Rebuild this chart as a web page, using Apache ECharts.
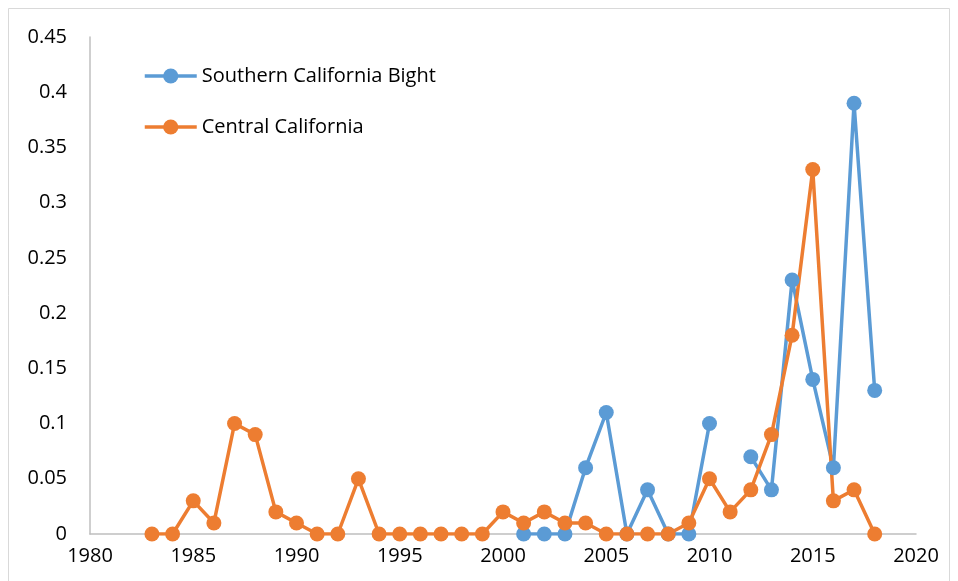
<!DOCTYPE html>
<html>
<head>
<meta charset="utf-8">
<script src="https://cdn.jsdelivr.net/npm/echarts@6/dist/echarts.min.js"></script>
<style>
  html, body { margin: 0; padding: 0; background: #fff; }
  #chart { width: 958px; height: 581px; }
</style>
</head>
<body>
<div id="chart"></div>
<script>
// Survey years
const years = [1983, 1984, 1985, 1986, 1987, 1988, 1989, 1990, 1991, 1992,
  1993, 1994, 1995, 1996, 1997, 1998, 1999, 2000, 2001, 2002,
  2003, 2004, 2005, 2006, 2007, 2008, 2009, 2010, 2011, 2012,
  2013, 2014, 2015, 2016, 2017, 2018];

// Southern California Bight (no survey before 2001, none in 2011)
const southernBight = [null, null, null, null, null, null, null, null, null, null,
  null, null, null, null, null, null, null, null, 0, 0,
  0, 0.06, 0.11, 0, 0.04, 0, 0, 0.10, null, 0.07,
  0.04, 0.23, 0.14, 0.06, 0.39, 0.13];

// Central California
const centralCal = [0, 0, 0.03, 0.01, 0.10, 0.09, 0.02, 0.01, 0, 0,
  0.05, 0, 0, 0, 0, 0, 0, 0.02, 0.01, 0.02,
  0.01, 0.01, 0, 0, 0, 0, 0.01, 0.05, 0.02, 0.04,
  0.09, 0.18, 0.33, 0.03, 0.04, 0];

const seriesNames = ['Southern California Bight', 'Central California'];
const FONT = 'Open Sans';

function pairs(values) {
  return years.map((y, i) => [y, values[i] === null ? '-' : values[i]]);
}

const chart = echarts.init(document.getElementById('chart'), null, { renderer: 'canvas' });

chart.setOption({
  backgroundColor: '#ffffff',
  animation: false,
  graphic: [{
    type: 'rect',
    shape: { x: 8.5, y: 8.5, width: 941, height: 600 },
    style: { fill: 'none', stroke: '#d9d9d9', lineWidth: 1 },
    silent: true
  }],
  grid: { left: 90, right: 42, top: 37, bottom: 47, containLabel: false },
  legend: {
    orient: 'vertical',
    left: 138,
    top: 61,
    padding: 5,
    itemWidth: 52,
    itemHeight: 19,
    itemGap: 31,
    lineStyle: { width: 3.5 },
    textStyle: { fontFamily: FONT, fontSize: 20, color: '#000' },
    data: seriesNames
  },
  xAxis: {
    type: 'value',
    min: 1980,
    max: 2020,
    interval: 5,
    axisLine: { show: true, lineStyle: { color: '#bfbfbf', width: 1.5 } },
    axisTick: { show: false },
    splitLine: { show: false },
    axisLabel: {
      fontFamily: FONT, fontSize: 20, color: '#000', margin: 12,
      formatter: v => String(v)
    }
  },
  yAxis: {
    type: 'value',
    min: 0,
    max: 0.45,
    interval: 0.05,
    axisLine: { show: true, lineStyle: { color: '#bfbfbf', width: 1.5 } },
    axisTick: { show: false },
    splitLine: { show: false },
    axisLabel: {
      fontFamily: FONT, fontSize: 20, color: '#000', margin: 23,
      formatter: v => String(Math.round(v * 100) / 100)
    }
  },
  series: [
    {
      name: seriesNames[0],
      type: 'line',
      data: pairs(southernBight),
      connectNulls: false,
      symbol: 'circle',
      symbolSize: 15,
      itemStyle: { color: '#5b9bd5' },
      lineStyle: { color: '#5b9bd5', width: 3.5 }
    },
    {
      name: seriesNames[1],
      type: 'line',
      data: pairs(centralCal),
      connectNulls: false,
      symbol: 'circle',
      symbolSize: 15,
      itemStyle: { color: '#ed7d31' },
      lineStyle: { color: '#ed7d31', width: 3.5 }
    }
  ]
});
</script>
</body>
</html>
